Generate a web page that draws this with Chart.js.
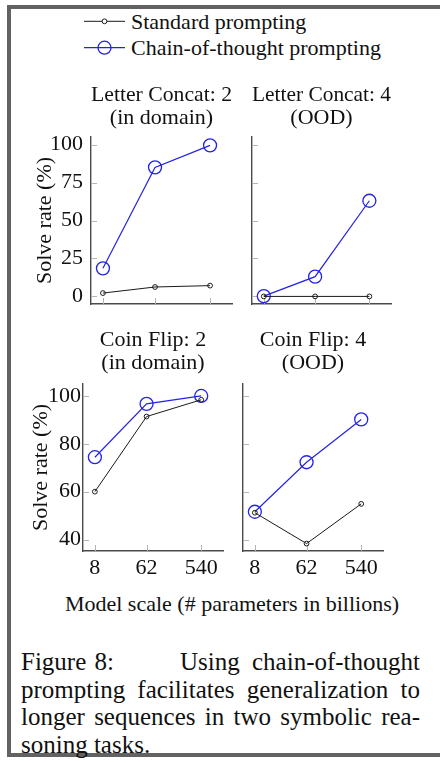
<!DOCTYPE html>
<html>
<head>
<meta charset="utf-8">
<script src="https://cdn.jsdelivr.net/npm/chart.js@4.4.1/dist/chart.umd.min.js"></script>
<style>
  html, body { margin: 0; padding: 0; background: #fff; }
  body { width: 440px; height: 763px; position: relative; overflow: hidden;
         font-family: "Liberation Serif", "Times New Roman", serif; color: #111; }
  .frame { position: absolute; left: 7px; top: 5px; width: 460px; height: 752px; box-sizing: border-box;
           border-top: 4px solid #626262; border-left: 4px solid #626262; border-bottom: 4px solid #626262; }
  canvas { position: absolute; }
  .legend-text { position: absolute; left: 131px; font-size: 22px; line-height: 22px; white-space: nowrap; }
  .xtitle { position: absolute; left: 0; width: 464px; top: 593px; text-align: center;
            font-size: 22px; line-height: 22px; white-space: nowrap; }
  .caption { position: absolute; left: 21px; width: 399px; top: 648px; font-size: 25px; line-height: 27.7px; }
  .caption .j { text-align: justify; text-align-last: justify; }
  .caption .first { display: flex; justify-content: space-between; white-space: nowrap; }
</style>
</head>
<body>
<div class="frame"></div>

<svg width="440" height="70" style="position:absolute;left:0;top:0">
  <line x1="84" y1="21.3" x2="125" y2="21.3" stroke="#1a1a1a" stroke-width="1"/>
  <circle cx="104.5" cy="21.3" r="2.4" fill="#fff" stroke="#1a1a1a" stroke-width="1"/>
  <line x1="84" y1="47.7" x2="125" y2="47.7" stroke="rgb(35,35,230)" stroke-width="1.2"/>
  <circle cx="104.5" cy="47.7" r="6.5" fill="none" stroke="rgb(35,35,230)" stroke-width="1.3"/>
</svg>
<div class="legend-text" style="top:11px">Standard prompting</div>
<div class="legend-text" style="top:37.3px">Chain-of-thought prompting</div>

<canvas id="lc2" width="252" height="222" style="left:0;top:84px"></canvas>
<canvas id="lc4" width="171" height="222" style="left:240px;top:84px"></canvas>
<canvas id="cf2" width="243" height="252" style="left:0;top:329px"></canvas>
<canvas id="cf4" width="173" height="252" style="left:230px;top:329px"></canvas>

<div class="xtitle">Model scale (# parameters in billions)</div>

<div class="caption">
  <div class="first"><span style="word-spacing:2px">Figure 8:</span><span style="word-spacing:6px">Using chain-of-thought</span></div>
  <div class="j">prompting facilitates generalization to</div>
  <div class="j">longer sequences in two symbolic rea-</div>
  <div>soning tasks.</div>
</div>

<script>
// Model sizes (billions of parameters) on the shared log x axis
const modelScale = [8, 62, 540];

// Solve rate (%) per task, standard vs chain-of-thought prompting
const letterConcat2Standard = [2.2, 6.2, 7.1];
const letterConcat2CoT      = [18.5, 85, 99.5];
const letterConcat4Standard = [0, 0, 0];
const letterConcat4CoT      = [0.2, 13, 63];
const coinFlip2Standard     = [60, 91.4, 98.4];
const coinFlip2CoT          = [74.4, 96.7, 100];
const coinFlip4Standard     = [51.2, 38.3, 54.9];
const coinFlip4CoT          = [51.6, 72.3, 90.2];

// Tick values
const xTicks = [8, 62, 540];
const letterTicks = [0, 25, 50, 75, 100];
const coinTicks = [40, 60, 80, 100];

const seriesNames = ['Standard prompting', 'Chain-of-thought prompting'];
const yTitle = 'Solve rate (%)';

const BLUE = 'rgb(35,35,230)';
const BLACK = '#1a1a1a';
const FONT = '"Liberation Serif", "Times New Roman", serif';

// short light tick marks pointing into the plot area
const innerTicks = {
  id: 'innerTicks',
  beforeDatasetsDraw(chart) {
    const {ctx, chartArea} = chart;
    ctx.save();
    ctx.strokeStyle = '#b4b4b4';
    ctx.lineWidth = 1;
    ctx.beginPath();
    const xs = chart.scales.x, ys = chart.scales.y;
    ys.ticks.forEach(t => {
      const y = Math.round(ys.getPixelForValue(t.value)) + 0.5;
      ctx.moveTo(chartArea.left, y);
      ctx.lineTo(chartArea.left + 6, y);
    });
    xs.ticks.forEach(t => {
      const x = Math.round(xs.getPixelForValue(t.value)) + 0.5;
      ctx.moveTo(x, chartArea.bottom);
      ctx.lineTo(x, chartArea.bottom - 6);
    });
    ctx.stroke();
    ctx.restore();
  }
};

function points(vals) {
  return modelScale.map((x, i) => ({x: x, y: vals[i]}));
}

function makePanel(id, opts) {
  const fixed = (w, h) => (s) => {
    if (w !== undefined) s.width = w;
    if (h !== undefined) s.height = h;
    s.paddingTop = s.paddingBottom = s.paddingLeft = s.paddingRight = 0;
  };
  return new Chart(document.getElementById(id), {
    type: 'line',
    data: {
      datasets: [
        {
          label: seriesNames[0],
          data: points(opts.standard),
          borderColor: BLACK, borderWidth: 1,
          pointRadius: 2.4, pointBorderWidth: 1,
          pointBorderColor: BLACK, pointBackgroundColor: 'rgba(255,255,255,0)',
          tension: 0, clip: false
        },
        {
          label: seriesNames[1],
          data: points(opts.cot),
          borderColor: BLUE, borderWidth: 1.2,
          pointRadius: 6.5, pointBorderWidth: 1.3,
          pointBorderColor: BLUE, pointBackgroundColor: 'rgba(255,255,255,0)',
          tension: 0, clip: false
        }
      ]
    },
    options: {
      responsive: false,
      animation: false,
      devicePixelRatio: 1,
      events: [],
      layout: { autoPadding: false, padding: { right: 20 } },
      plugins: {
        legend: { display: false },
        tooltip: { enabled: false },
        title: {
          display: true,
          text: opts.title,
          fullSize: false,
          color: '#111',
          font: { family: FONT, size: 22, weight: 'normal', lineHeight: 23 / 22 },
          padding: { top: 0, bottom: opts.titleGap }
        }
      },
      scales: {
        x: {
          type: 'logarithmic',
          min: 5, max: 1280,
          grid: { display: false, drawTicks: false },
          border: { display: true, color: '#4a4a4a', width: 1.4 },
          afterBuildTicks: (s) => { s.ticks = xTicks.map(v => ({value: v})); },
          afterFit: fixed(undefined, opts.xHeight),
          ticks: {
            display: opts.xLabels,
            padding: 4.4,
            color: '#111',
            font: { family: FONT, size: 22 },
            maxRotation: 0,
            callback: (v) => String(v)
          }
        },
        y: {
          type: 'linear',
          min: opts.yMin, max: opts.yMax,
          grid: { display: false, drawTicks: false },
          border: { display: true, color: '#4a4a4a', width: 1.4 },
          afterBuildTicks: (s) => { s.ticks = opts.yTicks.map(v => ({value: v})); },
          afterFit: fixed(opts.yWidth, undefined),
          ticks: {
            display: opts.yLabels,
            padding: opts.yPad,
            color: '#111',
            font: { family: FONT, size: 22 },
            callback: (v) => String(v)
          },
          title: {
            display: opts.yLabels,
            text: yTitle,
            color: '#111',
            font: { family: FONT, size: 22 },
            padding: { top: opts.yTitlePad, bottom: 0 }
          }
        }
      }
    },
    plugins: [innerTicks]
  });
}

makePanel('lc2', {
  title: ['Letter Concat: 2', '(in domain)'],
  standard: letterConcat2Standard, cot: letterConcat2CoT,
  yMin: -5, yMax: 105, yTicks: letterTicks,
  yWidth: 91, yLabels: true, yPad: 8, yTitlePad: 31.8,
  xHeight: 2, xLabels: false, titleGap: 7
});
makePanel('lc4', {
  title: ['Letter Concat: 4', '(OOD)'],
  standard: letterConcat4Standard, cot: letterConcat4CoT,
  yMin: -5, yMax: 105, yTicks: letterTicks,
  yWidth: 12, yLabels: false, yPad: 8, yTitlePad: 0,
  xHeight: 2, xLabels: false, titleGap: 7
});
makePanel('cf2', {
  title: ['Coin Flip: 2', '(in domain)'],
  standard: coinFlip2Standard, cot: coinFlip2CoT,
  yMin: 35.2, yMax: 105, yTicks: coinTicks,
  yWidth: 83, yLabels: true, yPad: 2, yTitlePad: 27.8,
  xHeight: 30, xLabels: true, titleGap: 9
});
makePanel('cf4', {
  title: ['Coin Flip: 4', '(OOD)'],
  standard: coinFlip4Standard, cot: coinFlip4CoT,
  yMin: 35.2, yMax: 105, yTicks: coinTicks,
  yWidth: 13, yLabels: false, yPad: 2, yTitlePad: 0,
  xHeight: 30, xLabels: true, titleGap: 9
});
</script>
</body>
</html>
